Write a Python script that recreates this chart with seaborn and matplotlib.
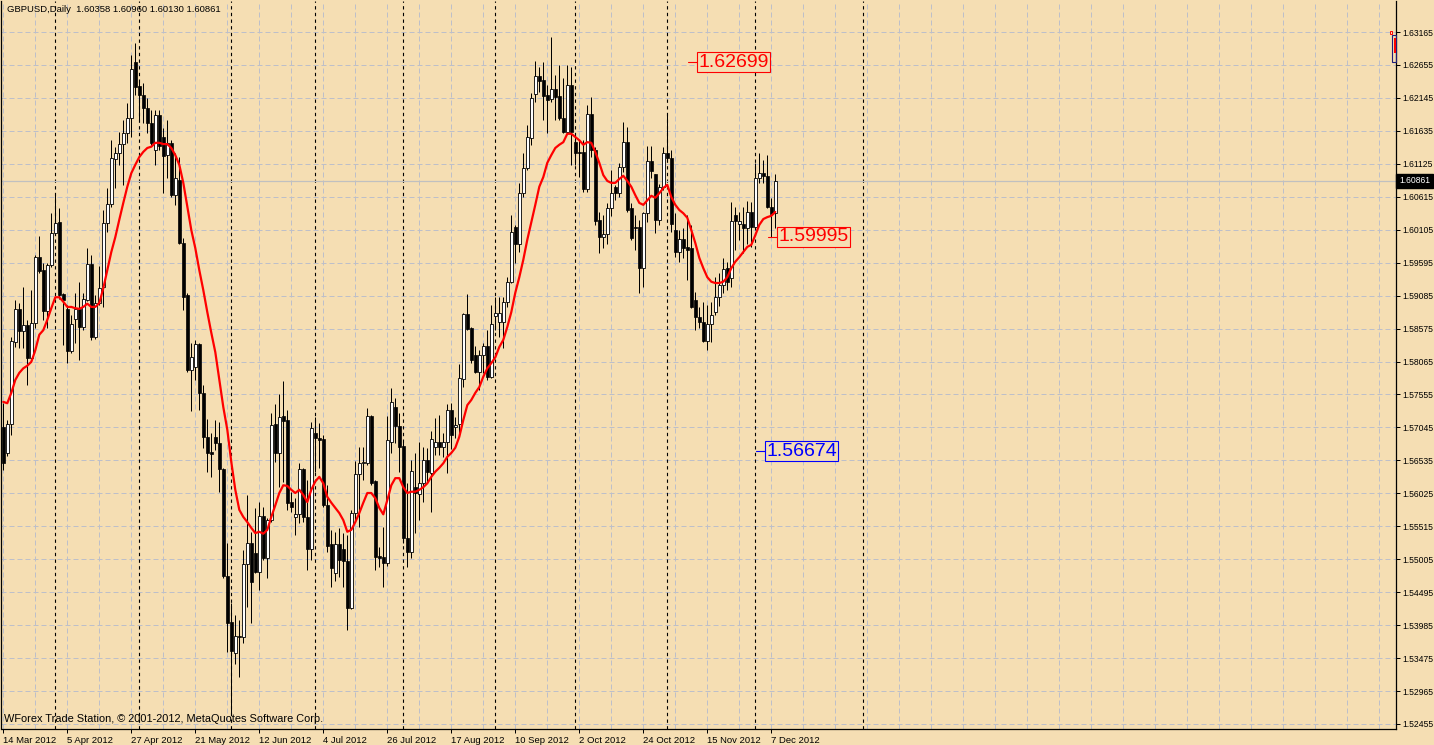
import numpy as np
import pandas as pd
import matplotlib
matplotlib.use("Agg")
import matplotlib.pyplot as plt
import seaborn as sns
from matplotlib.transforms import blended_transform_factory
import matplotlib.patches as mpatches

# ---------------- data ----------------
header_text = "GBPUSD,Daily  1.60358 1.60960 1.60130 1.60861"
footer_text = "WForex Trade Station, \u00a9 2001-2012, MetaQuotes Software Corp."

opens = [1.5705, 1.5665, 1.5710, 1.5837, 1.5888, 1.5854, 1.5863, 1.5812, 1.5866, 1.5968,
         1.5948, 1.5885, 1.5956, 1.6005, 1.6022, 1.5911, 1.5888, 1.5823, 1.5872, 1.5888,
         1.5860, 1.5902, 1.5957, 1.5844, 1.5897, 1.5922, 1.6021, 1.6050, 1.6120, 1.6129,
         1.6143, 1.6160, 1.6183, 1.6270, 1.6233, 1.6219, 1.6199, 1.6175, 1.6134, 1.6188,
         1.6154, 1.6126, 1.6144, 1.6064, 1.6087, 1.5990, 1.5909, 1.5793, 1.5798, 1.5833,
         1.5758, 1.5689, 1.5666, 1.5689, 1.5680, 1.5640, 1.5475, 1.5403, 1.5355, 1.5382,
         1.5380, 1.5493, 1.5525, 1.5510, 1.5481, 1.5567, 1.5502, 1.5561, 1.5710, 1.5665,
         1.5722, 1.5716, 1.5589, 1.5566, 1.5570, 1.5640, 1.5566, 1.5516, 1.5696, 1.5688,
         1.5686, 1.5584, 1.5524, 1.5479, 1.5524, 1.5517, 1.5498, 1.5425, 1.5572, 1.5633,
         1.5650, 1.5650, 1.5722, 1.5621, 1.5505, 1.5504, 1.5494, 1.5682, 1.5736, 1.5707,
         1.5676, 1.5533, 1.5512, 1.5612, 1.5601, 1.5618, 1.5654, 1.5634, 1.5674, 1.5682,
         1.5674, 1.5682, 1.5731, 1.5705, 1.5710, 1.5779, 1.5880, 1.5858, 1.5816, 1.5790,
         1.5816, 1.5830, 1.5782, 1.5877, 1.5868, 1.5868, 1.5899, 1.5929, 1.6015, 1.5988,
         1.6067, 1.6106, 1.6152, 1.6220, 1.6248, 1.6242, 1.6219, 1.6213, 1.6228, 1.6217,
         1.6183, 1.6162, 1.6234, 1.6146, 1.6131, 1.6131, 1.6073, 1.6190, 1.6134, 1.6025,
         1.5999, 1.6004, 1.6044, 1.6076, 1.6067, 1.6108, 1.6146, 1.6044, 1.6015, 1.6015,
         1.5951, 1.6036, 1.6117, 1.6097, 1.6025, 1.6077, 1.6129, 1.6121, 1.6010, 1.5976,
         1.5996, 1.5984, 1.5982, 1.5902, 1.5875, 1.5868, 1.5838, 1.5864, 1.5883, 1.5906,
         1.5925, 1.5951, 1.5935, 1.6033, 1.6020, 1.6020, 1.6013, 1.6038, 1.6015, 1.6090,
         1.6099, 1.6094, 1.6046, 1.60358]
highs = [1.5742, 1.5716, 1.5844, 1.5902, 1.5897, 1.5922, 1.5871, 1.5917, 1.5971, 1.6000,
         1.5959, 1.5959, 1.6036, 1.6067, 1.6044, 1.5912, 1.5894, 1.5878, 1.5912, 1.5930,
         1.5912, 1.5982, 1.5971, 1.5909, 1.5955, 1.6041, 1.6075, 1.6149, 1.6139, 1.6162,
         1.6180, 1.6206, 1.6281, 1.6299, 1.6242, 1.6237, 1.6214, 1.6196, 1.6196, 1.6196,
         1.6168, 1.6180, 1.6150, 1.6129, 1.6123, 1.5997, 1.5912, 1.5835, 1.5840, 1.5835,
         1.5770, 1.5717, 1.5696, 1.5716, 1.5713, 1.5641, 1.5525, 1.5433, 1.5414, 1.5406,
         1.5515, 1.5600, 1.5543, 1.5580, 1.5589, 1.5581, 1.5564, 1.5727, 1.5741, 1.5756,
         1.5776, 1.5731, 1.5604, 1.5595, 1.5649, 1.5641, 1.5623, 1.5713, 1.5721, 1.5711,
         1.5693, 1.5615, 1.5545, 1.5543, 1.5549, 1.5541, 1.5538, 1.5576, 1.5652, 1.5674,
         1.5674, 1.5734, 1.5724, 1.5623, 1.5519, 1.5550, 1.5722, 1.5765, 1.5750, 1.5727,
         1.5685, 1.5618, 1.5654, 1.5665, 1.5682, 1.5674, 1.5672, 1.5699, 1.5719, 1.5724,
         1.5696, 1.5741, 1.5742, 1.5721, 1.5802, 1.5882, 1.5911, 1.5860, 1.5830, 1.5824,
         1.5835, 1.5855, 1.5894, 1.5906, 1.5906, 1.5906, 1.5937, 1.6033, 1.6018, 1.6083,
         1.6129, 1.6173, 1.6222, 1.6272, 1.6262, 1.6270, 1.6234, 1.6309, 1.6250, 1.6265,
         1.6245, 1.6265, 1.6262, 1.6160, 1.6149, 1.6149, 1.6203, 1.6216, 1.6139, 1.6038,
         1.6033, 1.6052, 1.6103, 1.6080, 1.6114, 1.6177, 1.6169, 1.6052, 1.6033, 1.6026,
         1.6038, 1.6140, 1.6140, 1.6097, 1.6082, 1.6138, 1.6188, 1.6134, 1.6036, 1.6010,
         1.6013, 1.6033, 1.6018, 1.5914, 1.5891, 1.5899, 1.5894, 1.5899, 1.5937, 1.5943,
         1.5966, 1.5960, 1.6053, 1.6046, 1.6038, 1.6046, 1.6055, 1.6053, 1.6114, 1.6129,
         1.6118, 1.6126, 1.6059, 1.60960]
lows = [1.5638, 1.5660, 1.5693, 1.5829, 1.5827, 1.5827, 1.5770, 1.5806, 1.5858, 1.5943,
        1.5871, 1.5858, 1.5953, 1.6002, 1.5904, 1.5832, 1.5804, 1.5819, 1.5835, 1.5809,
        1.5855, 1.5900, 1.5840, 1.5842, 1.5894, 1.5891, 1.6007, 1.6046, 1.6075, 1.6110,
        1.6080, 1.6144, 1.6154, 1.6219, 1.6180, 1.6175, 1.6160, 1.6141, 1.6110, 1.6134,
        1.6067, 1.6090, 1.6061, 1.6049, 1.5988, 1.5886, 1.5790, 1.5730, 1.5778, 1.5731,
        1.5672, 1.5636, 1.5628, 1.5669, 1.5604, 1.5471, 1.5357, 1.5262, 1.5339, 1.5318,
        1.5371, 1.5427, 1.5402, 1.5479, 1.5453, 1.5499, 1.5471, 1.5558, 1.5651, 1.5612,
        1.5620, 1.5576, 1.5573, 1.5538, 1.5556, 1.5558, 1.5484, 1.5500, 1.5636, 1.5641,
        1.5581, 1.5511, 1.5457, 1.5467, 1.5473, 1.5457, 1.5391, 1.5423, 1.5561, 1.5550,
        1.5623, 1.5646, 1.5615, 1.5484, 1.5488, 1.5457, 1.5490, 1.5665, 1.5680, 1.5635,
        1.5525, 1.5488, 1.5502, 1.5541, 1.5561, 1.5589, 1.5620, 1.5573, 1.5662, 1.5662,
        1.5659, 1.5634, 1.5671, 1.5688, 1.5696, 1.5767, 1.5855, 1.5804, 1.5789, 1.5762,
        1.5789, 1.5778, 1.5781, 1.5855, 1.5845, 1.5827, 1.5891, 1.5928, 1.5959, 1.5976,
        1.6061, 1.6103, 1.6141, 1.6208, 1.6224, 1.6181, 1.6160, 1.6208, 1.6180, 1.6180,
        1.6160, 1.6160, 1.6110, 1.6110, 1.6092, 1.6069, 1.6069, 1.6123, 1.6018, 1.5974,
        1.5982, 1.5989, 1.6031, 1.6056, 1.6061, 1.6100, 1.6038, 1.5995, 1.5979, 1.5912,
        1.5922, 1.6022, 1.6090, 1.6005, 1.6018, 1.6072, 1.6118, 1.6007, 1.5968, 1.5960,
        1.5966, 1.5932, 1.5889, 1.5855, 1.5858, 1.5837, 1.5824, 1.5837, 1.5878, 1.5892,
        1.5912, 1.5917, 1.5922, 1.5979, 1.5994, 1.5974, 1.5989, 1.5984, 1.6010, 1.6083,
        1.6083, 1.6044, 1.5999, 1.60130]
closes = [1.5649, 1.5710, 1.5838, 1.5888, 1.5854, 1.5863, 1.5812, 1.5866, 1.5968, 1.5946,
          1.5885, 1.5956, 1.6005, 1.6021, 1.5909, 1.5902, 1.5823, 1.5864, 1.5888, 1.5860,
          1.5904, 1.5957, 1.5844, 1.5897, 1.5920, 1.6021, 1.6050, 1.6121, 1.6129, 1.6143,
          1.6160, 1.6183, 1.6259, 1.6231, 1.6219, 1.6199, 1.6175, 1.6144, 1.6188, 1.6140,
          1.6124, 1.6144, 1.6064, 1.6090, 1.5990, 1.5906, 1.5793, 1.5813, 1.5833, 1.5758,
          1.5689, 1.5665, 1.5663, 1.5680, 1.5640, 1.5474, 1.5402, 1.5358, 1.5382, 1.5380,
          1.5493, 1.5525, 1.5465, 1.5481, 1.5567, 1.5502, 1.5561, 1.5709, 1.5665, 1.5720,
          1.5714, 1.5588, 1.5581, 1.5570, 1.5640, 1.5566, 1.5516, 1.5703, 1.5688, 1.5685,
          1.5584, 1.5521, 1.5487, 1.5524, 1.5499, 1.5498, 1.5425, 1.5572, 1.5633, 1.5650,
          1.5651, 1.5722, 1.5618, 1.5504, 1.5502, 1.5494, 1.5685, 1.5744, 1.5707, 1.5674,
          1.5533, 1.5512, 1.5637, 1.5603, 1.5618, 1.5654, 1.5635, 1.5686, 1.5682, 1.5674,
          1.5682, 1.5731, 1.5693, 1.5708, 1.5781, 1.5880, 1.5857, 1.5809, 1.5790, 1.5816,
          1.5830, 1.5782, 1.5864, 1.5882, 1.5882, 1.5899, 1.5929, 1.6007, 1.5988, 1.6067,
          1.6106, 1.6154, 1.6214, 1.6248, 1.6241, 1.6217, 1.6211, 1.6228, 1.6216, 1.6183,
          1.6162, 1.6234, 1.6162, 1.6129, 1.6129, 1.6073, 1.6190, 1.6134, 1.6024, 1.5999,
          1.6004, 1.6044, 1.6067, 1.6067, 1.6108, 1.6146, 1.6041, 1.5997, 1.6013, 1.5951,
          1.6036, 1.6117, 1.6101, 1.6025, 1.6077, 1.6129, 1.6122, 1.6020, 1.5976, 1.5996,
          1.5982, 1.5979, 1.5891, 1.5875, 1.5868, 1.5838, 1.5864, 1.5878, 1.5906, 1.5925,
          1.5949, 1.5929, 1.6024, 1.6024, 1.6024, 1.6013, 1.6038, 1.6015, 1.6090, 1.6099,
          1.6094, 1.6046, 1.6035, 1.60861]
moving_avg = [1.5744, 1.5742, 1.5758, 1.5778, 1.5789, 1.5796, 1.5800, 1.5806, 1.5824, 1.5848,
              1.5855, 1.5871, 1.5889, 1.5906, 1.5906, 1.5899, 1.5891, 1.5891, 1.5889, 1.5888,
              1.5891, 1.5896, 1.5891, 1.5891, 1.5897, 1.5920, 1.5948, 1.5976, 1.5999, 1.6026,
              1.6052, 1.6077, 1.6098, 1.6111, 1.6123, 1.6131, 1.6137, 1.6139, 1.6145, 1.6145,
              1.6143, 1.6143, 1.6137, 1.6126, 1.6111, 1.6083, 1.6046, 1.6010, 1.5982, 1.5948,
              1.5917, 1.5883, 1.5851, 1.5821, 1.5778, 1.5736, 1.5701, 1.5651, 1.5608, 1.5577,
              1.5566, 1.5558, 1.5549, 1.5541, 1.5543, 1.5540, 1.5546, 1.5566, 1.5584, 1.5603,
              1.5615, 1.5614, 1.5608, 1.5603, 1.5608, 1.5600, 1.5589, 1.5608, 1.5621, 1.5628,
              1.5618, 1.5597, 1.5588, 1.5580, 1.5572, 1.5561, 1.5543, 1.5546, 1.5558, 1.5572,
              1.5588, 1.5603, 1.5603, 1.5595, 1.5580, 1.5570, 1.5592, 1.5615, 1.5626, 1.5626,
              1.5612, 1.5603, 1.5605, 1.5605, 1.5608, 1.5612, 1.5618, 1.5628, 1.5636, 1.5642,
              1.5649, 1.5659, 1.5665, 1.5673, 1.5690, 1.5716, 1.5739, 1.5747, 1.5758, 1.5767,
              1.5783, 1.5796, 1.5804, 1.5813, 1.5829, 1.5840, 1.5860, 1.5883, 1.5913, 1.5937,
              1.5964, 1.5995, 1.6022, 1.6049, 1.6077, 1.6092, 1.6114, 1.6126, 1.6137, 1.6142,
              1.6146, 1.6159, 1.6159, 1.6154, 1.6149, 1.6142, 1.6146, 1.6145, 1.6131, 1.6114,
              1.6095, 1.6086, 1.6083, 1.6083, 1.6089, 1.6094, 1.6086, 1.6077, 1.6064, 1.6052,
              1.6049, 1.6056, 1.6063, 1.6060, 1.6067, 1.6075, 1.6080, 1.6061, 1.6049, 1.6041,
              1.6036, 1.6029, 1.6010, 1.5990, 1.5967, 1.5951, 1.5937, 1.5930, 1.5928, 1.5928,
              1.5930, 1.5937, 1.5951, 1.5961, 1.5968, 1.5976, 1.5984, 1.5987, 1.6002, 1.6018,
              1.6027, 1.6030, 1.6032, 1.6038]

date_labels = ["14 Mar 2012", "5 Apr 2012", "27 Apr 2012", "21 May 2012", "12 Jun 2012",
               "4 Jul 2012", "26 Jul 2012", "17 Aug 2012", "10 Sep 2012", "2 Oct 2012",
               "24 Oct 2012", "15 Nov 2012", "7 Dec 2012"]
date_label_bars = [0, 16, 32, 48, 64, 80, 96, 112, 128, 144, 160, 176, 192]
month_start_bars = [13, 34, 57, 78, 100, 123, 143, 166, 188, 215]
price_ticks = [1.63165, 1.62655, 1.62145, 1.61635, 1.61125, 1.60615, 1.60105, 1.59595,
               1.59085, 1.58575, 1.58065, 1.57555, 1.57045, 1.56535, 1.56025, 1.55515,
               1.55005, 1.54495, 1.53985, 1.53475, 1.52965, 1.52455]
tag_values = [1.62699, 1.59995, 1.56674]
tag_colors = ["#FF0000", "#FF0000", "#0000FF"]
tag_bars = [171.2, 191.2, 188.2]
bid_price = 1.60861

# ---------------- style ----------------
BG = "#F5DEB3"
GRID = "#BDBFC9"
sns.set_theme(style="ticks", rc={"axes.facecolor": BG, "figure.facecolor": BG,
                                 "axes.edgecolor": "black"})
plt.rcParams["font.family"] = ["Liberation Sans", "DejaVu Sans"]

W, H = 1434, 745
fig = plt.figure(figsize=(W / 100, H / 100), dpi=100)
ax = fig.add_axes([1.5 / W, (H - 729) / H, (1396 - 1.5) / W, (729 - 1) / H])
ax.set_facecolor(BG)

n = len(closes)
df = pd.DataFrame({"bar": np.arange(n), "open": opens, "high": highs,
                   "low": lows, "close": closes, "ma": moving_avg})
df["bull"] = df["close"] >= df["open"]
df["body_lo"] = df[["open", "close"]].min(axis=1)
df["body_h"] = (df["close"] - df["open"]).abs()

ax.set_xlim((1.5 - 3.3) / 4, (1396 - 3.3) / 4)
ax.set_ylim(1.523776, 1.636448)

# grid
ax.set_yticks(price_ticks)
ax.set_yticklabels([f"{p:.5f}" for p in price_ticks])
ax.yaxis.grid(True, color=GRID, linestyle=(0, (5, 3)), linewidth=0.72)
ax.set_xticks(np.arange(0, 349, 8), minor=True)
ax.set_xticks(date_label_bars)
ax.set_xticklabels(date_labels)
ax.xaxis.grid(True, which="both", color=GRID, linestyle=(0, (5, 3)), linewidth=0.72)
ax.set_axisbelow(True)

for b in month_start_bars:
    ax.axvline(b, color="black", linestyle=(0, (3, 3)), linewidth=0.8, zorder=1)

ax.axhline(bid_price, color="#C0C0C0", linewidth=0.9, zorder=1)

# candles: wicks then bodies
ax.vlines(df["bar"], df["low"], df["high"], color="black", linewidth=0.72, zorder=2)
bull = df[df["bull"]]
bear = df[~df["bull"]]
ax.bar(bear["bar"], bear["body_h"], bottom=bear["body_lo"], width=0.62,
       color="black", edgecolor="black", linewidth=0.5, zorder=3)
ax.bar(bull["bar"], bull["body_h"], bottom=bull["body_lo"], width=0.62,
       color="white", edgecolor="black", linewidth=0.6, zorder=3)

# moving average
sns.lineplot(data=df, x="bar", y="ma", ax=ax, color="#FF0000", linewidth=1.6, zorder=4)
ax.set_xlabel("")
ax.set_ylabel("")

# price tags
for val, col, b in zip(tag_values, tag_colors, tag_bars):
    ax.plot([b, b + 2.5], [val, val], color=col, linewidth=0.8, zorder=5)
    ax.text(b + 2.5, val, f"{val:.5f}", color=col, fontsize=14, ha="left", va="center",
            zorder=6, bbox=dict(boxstyle="square,pad=0.08", fc=BG, ec=col, lw=0.8))

# axes styling
ax.spines["top"].set_visible(False)
for s in ["left", "right", "bottom"]:
    ax.spines[s].set_linewidth(0.9)
    ax.spines[s].set_color("black")
ax.yaxis.tick_right()
ax.tick_params(axis="y", which="major", direction="out", length=3, width=0.72,
               pad=1.5, labelsize=6.2, colors="black")
ax.tick_params(axis="x", which="major", direction="out", length=3, width=0.72,
               pad=2, labelsize=6.8, colors="black")
ax.tick_params(axis="x", which="minor", length=0)
for lbl in ax.get_xticklabels():
    lbl.set_horizontalalignment("left")

# current price box
tr = blended_transform_factory(ax.transAxes, ax.transData)
ax.text(1.0022, bid_price, f"{bid_price:.5f}", transform=tr, color="white", fontsize=6.2,
        ha="left", va="center", clip_on=False, zorder=7,
        bbox=dict(boxstyle="square,pad=0.3", fc="black", ec="black"))

# header and footer
fig.text(7 / W, 1 - 10 / H, header_text, fontsize=6.8, color="black", va="center", ha="left")
fig.text(4 / W, 1 - 719 / H, footer_text, fontsize=7.9, color="black", va="center", ha="left")

# small order marker at top right
fig.patches.append(mpatches.Rectangle((1392 / W, 1 - 62 / H), 4 / W, 27 / H,
                                      transform=fig.transFigure, fill=False,
                                      ec="#1E1E78", lw=0.8))
fig.patches.append(mpatches.Rectangle((1394 / W, 1 - 53 / H), 2 / W, 15 / H,
                                      transform=fig.transFigure, fc="#FF0000", ec="none"))
fig.patches.append(mpatches.Rectangle((1389.5 / W, 1 - 34 / H), 2.5 / W, 2.5 / H,
                                      transform=fig.transFigure, fill=False,
                                      ec="#FF0000", lw=0.7))

fig.savefig("out.png", dpi=100, facecolor=BG)
